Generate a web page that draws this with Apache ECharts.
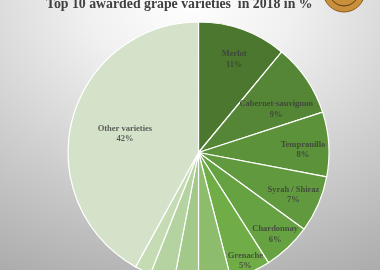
<!DOCTYPE html>
<html>
<head>
<meta charset="utf-8">
<script src="https://cdn.jsdelivr.net/npm/echarts@6/dist/echarts.min.js"></script>
<style>
html,body{margin:0;padding:0;}
#c{width:380px;height:270px;background:radial-gradient(ellipse 420px 330px at 190px 0px,#ffffff 0%,#f0f0f0 25%,#a5a5a5 100%);}
</style>
</head>
<body>
<div id="c"></div>
<script>
var titleText = 'Top 10 awarded grape varieties  in 2018 in %';
var varieties = ['Merlot','Cabernet-sauvignon','Tempranillo','Syrah / Shiraz','Chardonnay','Grenache','Pinot noir','Sauvignon blanc','Malbec','Riesling','Other varieties'];
var shares = [11,9,8,7,6,5,4,3,3,2,42];
var sliceColors = ['#4b782e','#548635','#5b923a','#61993e','#67a242','#70ad47','#8cbc6c','#a2c98a','#b5d3a1','#c4dbb4','#d4e2ca'];

// label placement inside slices (radial distance in px, angular nudge in % of the circle)
var labelPlacement = {
  'Merlot':[100,0.3],
  'Cabernet-sauvignon':[89,1.4],
  'Tempranillo':[104.5,0.6],
  'Syrah / Shiraz':[104,0.2],
  'Chardonnay':[112,0],
  'Grenache':[118,0],
  'Other varieties':[76,0]
};

var chart = echarts.init(document.getElementById('c'), null, {renderer:'canvas'});
var center = [198.5, 152.5];
var pieR = 130.5;

var mainData = varieties.map(function(n,i){
  return {name:n, value:shares[i], itemStyle:{color:sliceColors[i]}};
});

var total = shares.reduce(function(a,b){return a+b;},0);
var labelData = [];
var cum = 0;
varieties.forEach(function(n,i){
  var mid = (cum + shares[i]/2) / total * 100;
  cum += shares[i];
  var p = labelPlacement[n];
  if (p) labelData.push({name:n, value:[p[0], mid + p[1]], share:shares[i]});
});

chart.setOption({
  animation:false,
  backgroundColor:'transparent',
  title:{
    text:titleText, left:41, top:-8,
    textStyle:{fontFamily:'Liberation Serif', fontWeight:'bold', fontSize:13.8, color:'#404040'}
  },
  graphic:[
    {type:'circle', shape:{cx:344, cy:-9, r:21}, style:{fill:'#c98f3a', stroke:'#8a5a1c', lineWidth:1}, z:10},
    {type:'circle', shape:{cx:344, cy:-9, r:15}, style:{fill:'none', stroke:'#5c3b12', lineWidth:1}, z:11}
  ],
  polar:{center:center, radius:pieR},
  angleAxis:{type:'value', min:0, max:100, startAngle:90, clockwise:true, show:false},
  radiusAxis:{type:'value', min:0, max:pieR, show:false},
  series:[
    {
      type:'pie', center:center, radius:[0,pieR], startAngle:90, clockwise:true,
      silent:true, label:{show:false}, labelLine:{show:false},
      itemStyle:{borderColor:'#ffffff', borderWidth:1.2},
      data:mainData
    },
    {
      type:'scatter', coordinateSystem:'polar', silent:true,
      symbolSize:1, itemStyle:{color:'rgba(0,0,0,0)'},
      label:{
        show:true, position:'inside',
        formatter:function(p){ return p.name + '\n' + p.data.share + '%'; },
        fontFamily:'Liberation Serif', fontWeight:'bold', fontSize:8.5, lineHeight:10.5, color:'#3b3b3b'
      },
      data:labelData
    }
  ]
});
</script>
</body>
</html>
